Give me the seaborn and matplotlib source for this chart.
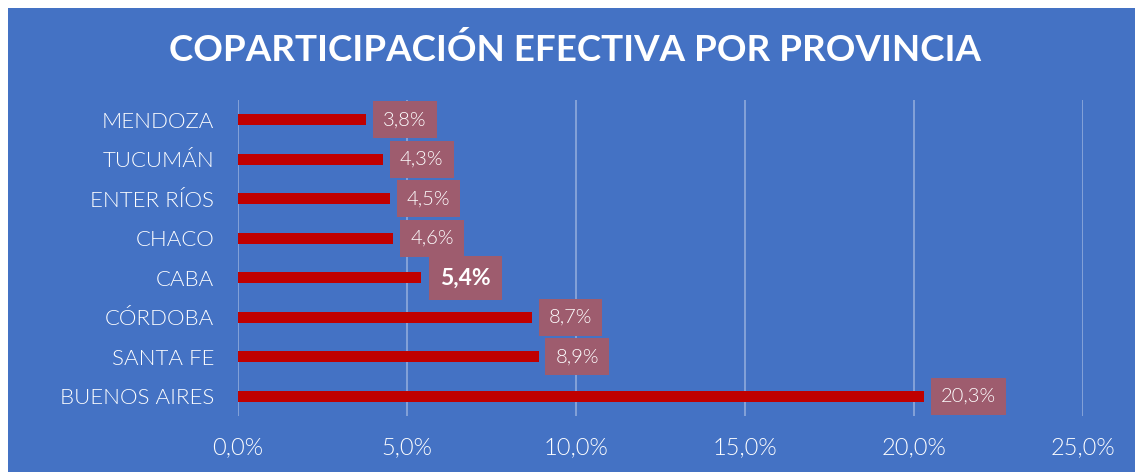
import matplotlib
matplotlib.use('Agg')
import matplotlib.pyplot as plt
import seaborn as sns
import pandas as pd
from matplotlib.patches import Rectangle
from matplotlib.ticker import FuncFormatter

provincias = ['MENDOZA', 'TUCUMÁN', 'ENTER RÍOS', 'CHACO', 'CABA',
              'CÓRDOBA', 'SANTA FE', 'BUENOS AIRES']
valores = [3.8, 4.3, 4.5, 4.6, 5.4, 8.7, 8.9, 20.3]
x_ticks = [0, 5, 10, 15, 20, 25]
destacado = 'CABA'

df = pd.DataFrame({'provincia': provincias, 'valor': valores})

sns.set_style('white')
plt.rcParams['font.family'] = ['Lato', 'DejaVu Sans']

fondo = '#4472C4'
fig = plt.figure(figsize=(11.35, 4.72), dpi=100, facecolor='white')
fig.patches.append(Rectangle((8 / 1135, 0), 1, 1 - 8 / 472, transform=fig.transFigure,
                             facecolor=fondo, edgecolor='none', zorder=-1))
ax = fig.add_axes([238 / 1135, 1 - 416 / 472, 845 / 1135, 316 / 472])
ax.set_zorder(1)
ax.set_facecolor(fondo)

sns.barplot(data=df, y='provincia', x='valor', orient='h', color='#C00000',
            width=0.28, saturation=1, linewidth=0, edgecolor='none', ax=ax, zorder=3)

ax.set_xlim(0, 25)
ax.set_xticks(x_ticks)
ax.xaxis.set_major_formatter(FuncFormatter(lambda v, p: f'{v:.1f}%'.replace('.', ',')))
ax.grid(axis='x', color='#8FAADC', linewidth=1.2, zorder=0)
ax.grid(axis='y', visible=False)
for s in ax.spines.values():
    s.set_visible(False)
ax.tick_params(axis='x', colors='white', labelsize=17, pad=15, length=0)
ax.tick_params(axis='y', colors='white', labelsize=16, pad=17, length=0)
for lbl in ax.get_xticklabels() + ax.get_yticklabels():
    lbl.set_fontweight(300)
ax.set_xlabel('')
ax.set_ylabel('')

for i, (p, v) in enumerate(zip(provincias, valores)):
    txt = f'{v:.1f}%'.replace('.', ',')
    bold = p == destacado
    ax.annotate(txt, xy=(v, i), xytext=(14 if bold else 12, 0), textcoords='offset points',
                ha='left', va='center', color='white',
                fontsize=16.5 if bold else 14.5, fontweight='bold' if bold else 300,
                bbox=dict(boxstyle='square,pad=0.5', facecolor='#9E5C6E',
                          edgecolor='none'), zorder=4)

fig.text(0.507, 0.895, 'COPARTICIPACIÓN EFECTIVA POR PROVINCIA', ha='center', va='center',
         color='white', fontsize=26.5, fontweight='bold')

fig.savefig('out.png', dpi=100, facecolor='white')
